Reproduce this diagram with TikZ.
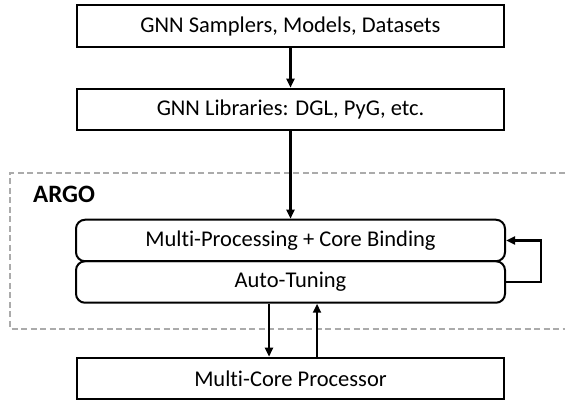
\documentclass[tikz,border=0pt]{standalone}
\usepackage{fontspec}
\setmainfont{Carlito}[Ligatures=NoCommon]
\usepackage{tikz}
\usetikzlibrary{arrows.meta,positioning,calc}

\tikzset{
layerbox/.style={draw, line width=2pt, minimum width=427pt, minimum height=41.5pt, inner sep=0pt},
argobox/.style={draw, line width=2pt, rounded corners=9pt, minimum width=429pt, minimum height=41.5pt, inner sep=0pt},
arr/.style={line width=2.5pt, -{Triangle[length=9pt,width=8pt]}},
grp/.style={draw=black!33, line width=2pt, dash pattern=on 6pt off 3.5pt}
}

\begin{document}
\begin{tikzpicture}[x=1pt, y=-1pt, font=\fontsize{22.5}{27}\selectfont]
\useasboundingbox (0,0) rectangle (565,403);
\node[layerbox] (samplers) at (290.5,26.25) {GNN Samplers, Models, Datasets};
\node[layerbox] (libs) at (290.5,109.5) {GNN Libraries: DGL, PyG, etc.};
\node[argobox] (mp) at (290.5,240.5) {Multi-Processing + Core Binding};
\node[argobox] (at) at (290.5,282) {Auto-Tuning};
\node[layerbox] (mc) at (290.5,378.5) {Multi-Core Processor};
% ARGO group
\draw[grp] (565,173)--(10,173)--(10,329)--(565,329);
\node[anchor=base west, inner sep=0pt, font=\fontsize{25}{30}\selectfont\bfseries] (argo) at (33,203) {ARGO};
\draw[arr] (samplers)--(libs);
\draw[arr] (libs)--(mp);
\draw[arr] ([xshift=-21.5pt]at.south)--([xshift=-21.5pt]mc.north);
\draw[arr] ([xshift=26.5pt]mc.north)--([xshift=26.5pt]at.south);
\draw[arr] (at.east)--++(35,0)|-(mp.east);
\end{tikzpicture}
\end{document}
